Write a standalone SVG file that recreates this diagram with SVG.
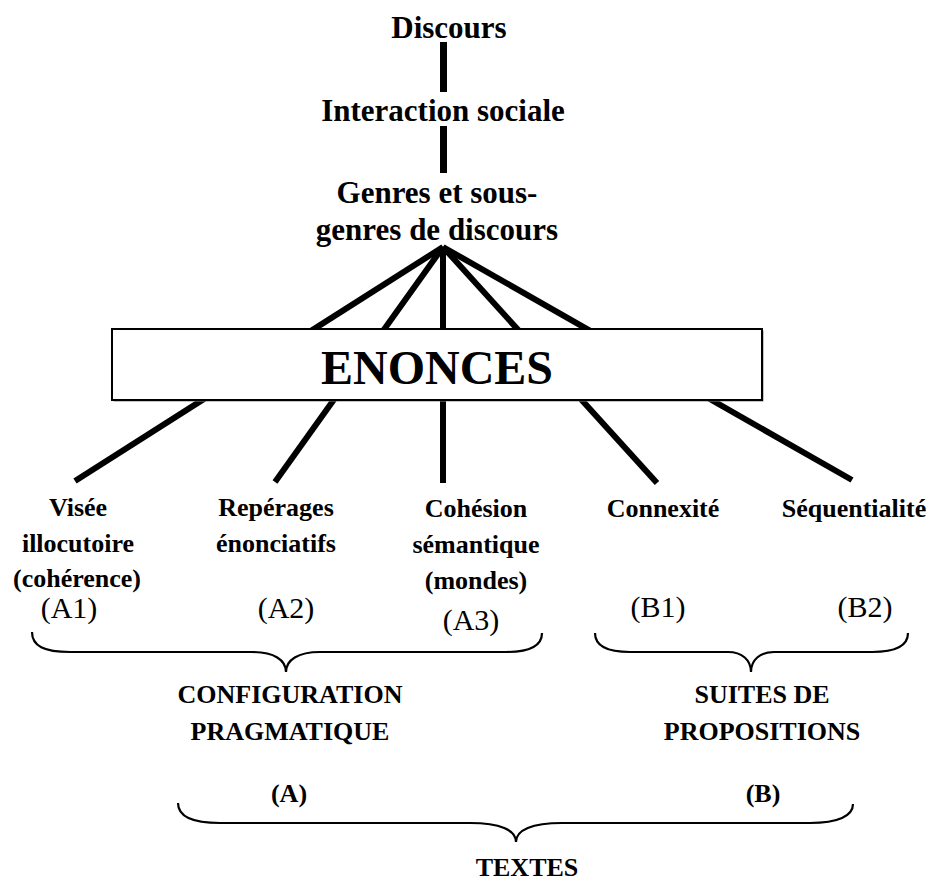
<svg xmlns="http://www.w3.org/2000/svg" width="933" height="883" viewBox="0 0 933 883">
<style>
.t{font-family:"Liberation Serif","Times New Roman",serif;fill:#000;text-anchor:middle}
.b{font-weight:bold}
.h{font-size:31px}
.l{font-size:26px}
.r{font-size:30px;font-weight:normal}
.c{stroke:#000;fill:none;stroke-linecap:butt}
.brace{stroke:#000;stroke-width:2.2;fill:none}
</style>
<rect width="933" height="883" fill="#fff"/>
<g id="connectors">
<line class="c" x1="443.5" y1="42" x2="443.5" y2="92" stroke-width="7"/>
<line class="c" x1="443.5" y1="126" x2="443.5" y2="173" stroke-width="7"/>
<line class="c" x1="443" y1="247" x2="75" y2="481" stroke-width="6"/>
<line class="c" x1="443" y1="247" x2="275" y2="482" stroke-width="6"/>
<line class="c" x1="443" y1="247" x2="443" y2="483" stroke-width="6"/>
<line class="c" x1="443" y1="247" x2="657" y2="483" stroke-width="6"/>
<line class="c" x1="443" y1="247" x2="852" y2="480" stroke-width="6"/>
</g>
<g id="braces">
<path class="brace" d="M32,632 C32,646 44,652 70,652 L252,652 C274,652 286,660 286,672 C286,660 298,652 320,652 L506,652 C530,652 542,646 542,633"/>
<path class="brace" d="M595,633 C595,646 607,652 630,652 L728,652 C742,652 751,660 751,672 C751,660 760,652 774,652 L872,652 C896,652 908,646 908,633"/>
<path class="brace" d="M178,803 C178,816 192,823 220,823 L470,823 C500,823 516,830 516,842 C516,830 532,823 562,823 L810,823 C838,823 853,816 853,804"/>
</g>
<g id="discours"><text class="t b h" x="449" y="38">Discours</text></g>
<g id="interaction"><text class="t b h" x="443" y="121">Interaction sociale</text></g>
<g id="genres"><text class="t b h" x="437" y="203">Genres et sous-</text><text class="t b h" x="437" y="240">genres de discours</text></g>
<g id="enonces">
<rect x="113.5" y="330.5" width="650" height="71" fill="#888"/>
<rect x="112" y="329" width="650" height="71" fill="#fff" stroke="#000" stroke-width="2"/>
<text class="t b" x="437" y="384" font-size="48">ENONCES</text>
</g>
<g id="visee"><text class="t b l" x="78" y="516">Visée</text><text class="t b l" x="78" y="552">illocutoire</text><text class="t b l" x="77" y="587">(cohérence)</text><text class="t r" x="69" y="618">(A1)</text></g>
<g id="reperages"><text class="t b l" x="276" y="516">Repérages</text><text class="t b l" x="276" y="552">énonciatifs</text><text class="t r" x="286" y="618">(A2)</text></g>
<g id="cohesion"><text class="t b l" x="476" y="517">Cohésion</text><text class="t b l" x="476" y="553">sémantique</text><text class="t b l" x="476" y="589">(mondes)</text><text class="t r" x="471" y="630">(A3)</text></g>
<g id="connexite"><text class="t b l" x="663" y="517">Connexité</text><text class="t r" x="658" y="617">(B1)</text></g>
<g id="sequentialite"><text class="t b l" x="854" y="517">Séquentialité</text><text class="t r" x="865" y="617">(B2)</text></g>
<g id="configuration"><text class="t b l" x="290" y="703">CONFIGURATION</text><text class="t b l" x="290" y="740">PRAGMATIQUE</text></g>
<g id="suites"><text class="t b l" x="762" y="703">SUITES DE</text><text class="t b l" x="762" y="740">PROPOSITIONS</text></g>
<g id="labelA"><text class="t b l" x="289" y="802">(A)</text></g>
<g id="labelB"><text class="t b l" x="763" y="802">(B)</text></g>
<g id="textes"><text class="t b l" x="527" y="876">TEXTES</text></g>
</svg>
